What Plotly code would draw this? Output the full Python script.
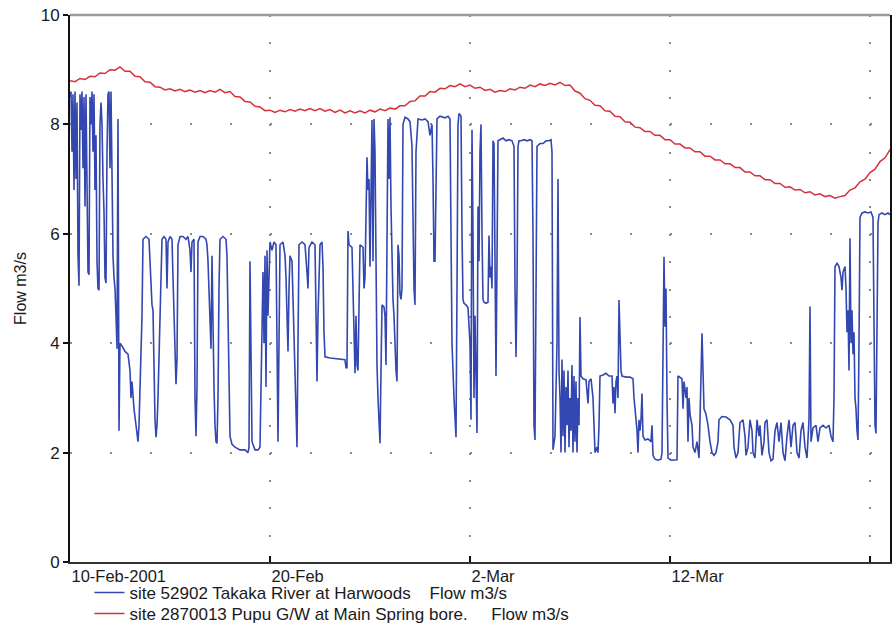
import pandas as pd
import plotly.graph_objects as go

START = "2001-02-10"

# Takaka River at Harwoods flow (m3/s); time in days after 10-Feb-2001 00:00
blue_days = [
    0.00, 0.05, 0.10, 0.15, 0.20, 0.25, 0.30, 0.35, 0.40, 0.45, 0.50, 0.55, 0.60, 0.65, 0.70, 0.75,
    0.80, 0.85, 0.90, 0.95, 1.00, 1.05, 1.10, 1.15, 1.20, 1.25, 1.30, 1.35, 1.40, 1.45, 1.50, 1.55,
    1.60, 1.65, 1.70, 1.75, 1.80, 1.85, 1.90, 1.95, 2.00, 2.05, 2.10, 2.15, 2.20, 2.25, 2.30, 2.35,
    2.40, 2.45, 2.50, 2.60, 2.75, 2.90, 3.00, 3.05, 3.10, 3.20, 3.30, 3.35, 3.40, 3.45, 3.50, 3.55,
    3.60, 3.65, 3.80, 3.95, 4.00, 4.05, 4.10, 4.15, 4.20, 4.25, 4.30, 4.35, 4.40, 4.45, 4.50, 4.55,
    4.60, 4.70, 4.80, 4.85, 4.90, 5.00, 5.10, 5.15, 5.20, 5.25, 5.30, 5.35, 5.40, 5.50, 5.65, 5.80,
    5.90, 6.00, 6.05, 6.10, 6.20, 6.25, 6.30, 6.35, 6.40, 6.50, 6.65, 6.80, 6.85, 6.90, 6.95, 7.00,
    7.05, 7.10, 7.15, 7.20, 7.25, 7.30, 7.35, 7.40, 7.45, 7.50, 7.65, 7.80, 7.85, 7.90, 7.95, 8.00,
    8.10, 8.25, 8.50, 8.75, 8.90, 8.95, 9.00, 9.05, 9.10, 9.25, 9.40, 9.50, 9.55, 9.60, 9.65, 9.70,
    9.75, 9.80, 9.85, 9.90, 9.95, 10.00, 10.10, 10.20, 10.30, 10.35, 10.40, 10.45, 10.50, 10.65, 10.75, 10.80,
    10.85, 10.90, 10.95, 11.00, 11.10, 11.20, 11.30, 11.35, 11.40, 11.45, 11.60, 11.75, 11.85, 11.90, 11.95, 12.10,
    12.25, 12.30, 12.35, 12.40, 12.50, 12.60, 12.65, 12.70, 12.75, 13.00, 13.25, 13.50, 13.75, 13.80, 13.85, 13.90,
    13.95, 14.10, 14.15, 14.20, 14.25, 14.30, 14.35, 14.40, 14.45, 14.50, 14.65, 14.70, 14.75, 14.80, 14.85, 14.90,
    14.95, 15.00, 15.05, 15.10, 15.15, 15.20, 15.25, 15.30, 15.35, 15.40, 15.45, 15.50, 15.55, 15.60, 15.70, 15.75,
    15.80, 15.85, 15.90, 15.95, 16.00, 16.05, 16.10, 16.15, 16.20, 16.25, 16.30, 16.35, 16.40, 16.45, 16.50, 16.55,
    16.60, 16.65, 16.75, 16.90, 17.00, 17.10, 17.15, 17.20, 17.25, 17.30, 17.40, 17.60, 17.75, 17.90, 18.00, 18.10,
    18.15, 18.20, 18.25, 18.30, 18.35, 18.50, 18.75, 18.90, 19.00, 19.05, 19.10, 19.20, 19.25, 19.30, 19.35, 19.40,
    19.45, 19.55, 19.60, 19.65, 19.70, 19.80, 19.90, 19.95, 20.00, 20.05, 20.10, 20.15, 20.20, 20.25, 20.30, 20.35,
    20.40, 20.45, 20.50, 20.55, 20.60, 20.65, 20.70, 20.80, 20.90, 20.95, 21.00, 21.05, 21.10, 21.15, 21.20, 21.25,
    21.30, 21.35, 21.40, 21.50, 21.65, 21.80, 21.95, 22.10, 22.20, 22.25, 22.30, 22.35, 22.40, 22.45, 22.55, 22.70,
    22.85, 23.00, 23.10, 23.15, 23.20, 23.25, 23.30, 23.35, 23.50, 23.65, 23.80, 23.95, 24.05, 24.10, 24.15, 24.25,
    24.35, 24.40, 24.45, 24.50, 24.55, 24.60, 24.65, 24.70, 24.75, 24.80, 24.85, 24.90, 24.95, 25.00, 25.05, 25.10,
    25.15, 25.20, 25.25, 25.30, 25.35, 25.40, 25.45, 25.50, 25.55, 25.65, 25.80, 25.90, 25.95, 26.05, 26.15, 26.20,
    26.25, 26.35, 26.40, 26.45, 26.50, 26.65, 26.80, 26.95, 27.10, 27.15, 27.20, 27.25, 27.30, 27.35, 27.40, 27.45,
    27.50, 27.55, 27.60, 27.80, 28.00, 28.15, 28.20, 28.25, 28.30, 28.35, 28.40, 28.45, 28.50, 28.55, 28.60, 28.65,
    28.75, 28.90, 29.05, 29.10, 29.15, 29.25, 29.40, 29.55, 29.60, 29.65, 29.70, 29.75, 29.80, 29.85, 29.90, 30.05,
    30.20, 30.35, 30.40, 30.50, 30.60, 30.65, 30.70, 30.80, 30.85, 30.90, 30.95, 31.00, 31.10, 31.15, 31.25, 31.35,
    31.45, 31.50, 31.55, 31.60, 31.65, 31.70, 31.80, 31.90, 32.00, 32.10, 32.20, 32.30, 32.40, 32.45, 32.60, 32.80,
    33.00, 33.15, 33.20, 33.30, 33.40, 33.50, 33.65, 33.75, 33.80, 33.90, 34.00, 34.10, 34.15, 34.25, 34.35, 34.45,
    34.50, 34.60, 34.70, 34.75, 34.85, 34.95, 35.05, 35.15, 35.25, 35.35, 35.45, 35.55, 35.65, 35.75, 35.85, 35.95,
    36.05, 36.15, 36.25, 36.35, 36.45, 36.55, 36.65, 36.75, 36.85, 36.90, 36.95, 37.00, 37.05, 37.15, 37.30, 37.40,
    37.50, 37.65, 37.80, 37.95, 38.05, 38.15, 38.20, 38.25, 38.35, 38.45, 38.55, 38.60, 38.65, 38.75, 38.80, 38.85,
    38.90, 38.95, 39.00, 39.05, 39.10, 39.15, 39.20, 39.25, 39.30, 39.35, 39.40, 39.45, 39.50, 39.60, 39.75, 39.90,
    40.05, 40.15, 40.20, 40.25, 40.30, 40.35, 40.40, 40.45, 40.60, 40.75, 40.90, 41.00,
]
blue_flow = [
    8.5, 8.6, 7.5, 8.55, 6.8, 8.6, 7.0, 8.4, 5.6, 5.05, 8.55, 7.9, 8.6, 7.2, 8.5, 6.5,
    8.55, 7.0, 5.3, 5.25, 8.5, 8.0, 8.6, 7.5, 8.55, 6.8, 7.8, 5.5, 5.0, 4.97, 8.0, 8.4,
    8.0, 7.0, 6.4, 5.2, 5.1, 7.5, 8.55, 8.6, 7.2, 8.6, 6.5, 5.6, 5.2, 5.0, 4.5, 3.9,
    8.1, 2.4, 4.0, 3.95, 3.85, 3.8, 3.5, 3.0, 3.3, 2.8, 2.5, 2.3, 2.2, 2.5, 3.2, 3.9,
    4.5, 5.9, 5.95, 5.9, 5.5, 5.0, 4.7, 4.6, 3.5, 2.6, 2.28, 2.5, 3.0, 3.8, 4.4, 5.0,
    5.9, 5.95, 5.9, 5.0, 5.85, 5.95, 5.9, 5.2, 4.5, 3.6, 3.25, 3.7, 5.8, 5.95, 5.95, 5.9,
    5.95, 5.7, 5.3, 5.85, 5.9, 3.0, 2.3, 3.2, 5.85, 5.95, 5.95, 5.9, 5.8, 5.5, 5.0, 4.4,
    3.9, 5.6, 4.0, 3.2, 2.5, 2.2, 2.17, 3.0, 5.0, 5.9, 5.95, 5.9, 5.6, 4.5, 3.0, 2.3,
    2.15, 2.1, 2.05, 2.05, 2.0, 2.1, 5.5, 3.5, 2.2, 2.05, 2.05, 2.1, 3.0, 4.5, 5.3, 4.0,
    5.6, 3.2, 5.7, 4.5, 5.5, 5.85, 5.7, 5.85, 5.8, 3.5, 2.2, 4.0, 5.8, 5.85, 5.6, 5.2,
    4.5, 3.85, 5.0, 5.6, 5.5, 4.0, 2.5, 2.1, 4.0, 5.8, 5.85, 5.8, 5.3, 5.0, 5.75, 5.85,
    5.8, 4.5, 3.3, 4.5, 5.8, 5.85, 5.4, 4.2, 3.75, 3.73, 3.72, 3.72, 3.7, 3.55, 3.55, 6.05,
    5.8, 5.75, 5.0, 4.0, 3.45, 4.5, 3.6, 3.5, 5.0, 5.8, 5.75, 5.0, 5.2, 6.0, 7.4, 6.8,
    7.0, 5.4, 6.5, 8.08, 5.5, 8.1, 7.5, 5.0, 3.6, 3.0, 2.5, 2.17, 3.5, 4.7, 4.66, 4.5,
    3.6, 6.0, 8.1, 7.0, 8.13, 6.5, 5.5, 4.8, 4.5, 3.8, 3.5, 3.3, 5.8, 5.6, 4.9, 4.8,
    5.0, 8.0, 8.13, 8.1, 8.05, 7.6, 6.0, 5.0, 4.7, 7.5, 8.1, 8.08, 8.1, 8.05, 7.8, 8.0,
    7.0, 5.5, 5.5, 7.0, 8.1, 8.15, 8.12, 8.15, 8.1, 6.0, 4.0, 3.0, 2.5, 2.28, 5.0, 8.0,
    8.2, 8.15, 6.0, 4.8, 4.73, 4.7, 4.65, 4.4, 4.0, 2.6, 7.9, 6.0, 3.0, 4.5, 3.5, 2.36,
    6.5, 5.5, 7.5, 8.0, 6.0, 4.8, 4.75, 4.73, 4.75, 5.97, 5.2, 5.4, 5.0, 7.7, 7.65, 5.0,
    3.4, 5.5, 7.7, 7.72, 7.75, 7.7, 7.72, 7.7, 7.6, 5.0, 3.75, 5.0, 7.6, 7.7, 7.7, 7.72,
    7.7, 7.72, 7.7, 6.0, 2.5, 2.23, 5.0, 7.6, 7.65, 7.65, 7.7, 7.7, 7.72, 7.5, 2.05, 2.3,
    4.0, 7.0, 3.5, 3.0, 2.0, 3.7, 2.3, 3.5, 2.0, 3.2, 2.5, 3.5, 2.1, 3.0, 2.4, 3.6,
    2.0, 3.4, 2.2, 3.3, 2.0, 3.0, 2.5, 4.48, 3.4, 3.35, 3.33, 2.9, 3.3, 3.35, 3.0, 2.3,
    2.0, 2.1, 2.0, 2.5, 3.4, 3.42, 3.45, 3.4, 3.4, 2.9, 3.2, 2.72, 3.3, 3.4, 3.0, 4.79,
    3.8, 3.5, 3.4, 3.38, 3.38, 3.35, 3.0, 2.8, 2.7, 2.41, 2.0, 2.6, 2.4, 2.6, 3.08, 2.3,
    2.23, 2.25, 2.2, 2.5, 1.95, 1.88, 1.86, 1.88, 2.0, 4.5, 5.58, 4.3, 5.0, 3.0, 1.9, 1.86,
    1.86, 1.87, 3.4, 3.38, 3.35, 2.8, 3.3, 3.0, 3.2, 2.2, 3.0, 2.7, 2.5, 2.1, 2.0, 2.2,
    1.9, 2.6, 3.8, 4.18, 3.5, 2.8, 2.7, 2.5, 2.2, 2.0, 1.95, 2.0, 2.2, 2.6, 2.66, 2.65,
    2.6, 2.5, 2.1, 1.9, 2.0, 2.55, 2.6, 2.3, 1.95, 2.1, 2.6, 2.4, 2.0, 1.9, 2.6, 2.3,
    2.5, 1.95, 2.2, 2.55, 2.6, 2.0, 1.85, 1.88, 2.4, 2.55, 2.2, 2.55, 2.0, 1.85, 2.3, 2.6,
    2.1, 2.5, 2.55, 2.0, 1.9, 2.4, 2.55, 2.1, 1.9, 2.2, 2.6, 4.67, 2.2, 2.45, 2.5, 2.2,
    2.45, 2.5, 2.45, 2.5, 2.3, 2.2, 3.0, 5.4, 5.46, 5.4, 5.2, 4.97, 5.3, 5.4, 5.0, 4.2,
    4.6, 3.5, 5.92, 4.0, 4.6, 3.8, 4.2, 3.0, 2.8, 2.4, 2.23, 4.0, 6.3, 6.38, 6.4, 6.38,
    6.4, 6.3, 4.0, 2.5, 2.35, 4.5, 6.2, 6.35, 6.38, 6.35, 6.38, 6.35,
]

# Pupu G/W at Main Spring bore flow (m3/s); one reading every quarter day
red_step_days = 0.25
red_flow = [
    8.80, 8.78, 8.84, 8.82, 8.88, 8.87, 8.94, 8.93, 9.00, 8.99, 9.05, 8.97,
    8.97, 8.88, 8.87, 8.78, 8.77, 8.69, 8.68, 8.63, 8.65, 8.61, 8.64, 8.60,
    8.63, 8.59, 8.62, 8.58, 8.62, 8.59, 8.64, 8.58, 8.60, 8.51, 8.50, 8.42,
    8.41, 8.33, 8.32, 8.25, 8.26, 8.22, 8.26, 8.23, 8.27, 8.24, 8.28, 8.25,
    8.29, 8.25, 8.29, 8.24, 8.27, 8.22, 8.26, 8.21, 8.25, 8.21, 8.25, 8.21,
    8.26, 8.23, 8.28, 8.25, 8.30, 8.28, 8.34, 8.34, 8.42, 8.43, 8.52, 8.52,
    8.60, 8.59, 8.66, 8.65, 8.71, 8.69, 8.74, 8.69, 8.72, 8.66, 8.68, 8.62,
    8.64, 8.59, 8.62, 8.60, 8.65, 8.63, 8.68, 8.66, 8.72, 8.69, 8.74, 8.71,
    8.75, 8.72, 8.77, 8.71, 8.72, 8.61, 8.57, 8.47, 8.44, 8.35, 8.34, 8.25,
    8.24, 8.15, 8.14, 8.05, 8.04, 7.95, 7.94, 7.87, 7.87, 7.80, 7.80, 7.72,
    7.72, 7.64, 7.64, 7.57, 7.57, 7.50, 7.50, 7.42, 7.42, 7.35, 7.35, 7.28,
    7.28, 7.21, 7.21, 7.13, 7.13, 7.06, 7.06, 6.99, 6.99, 6.92, 6.92, 6.85,
    6.86, 6.80, 6.81, 6.75, 6.77, 6.71, 6.73, 6.68, 6.70, 6.65, 6.68, 6.70,
    6.80, 6.84, 6.95, 7.00, 7.12, 7.18, 7.32, 7.39, 7.54,
]

tick_dates = ["2001-02-10", "2001-02-20", "2001-03-02", "2001-03-12", "2001-03-22"]
tick_labels = ["10-Feb-2001", "20-Feb", "2-Mar", "12-Mar", ""]
y_ticks = [0, 2, 4, 6, 8, 10]

blue_name = "site 52902 Takaka River at Harwoods\u00a0\u00a0\u00a0\u00a0Flow m3/s"
red_name = "site 2870013 Pupu G/W at Main Spring bore.\u00a0\u00a0\u00a0\u00a0\u00a0Flow m3/s"

t0 = pd.Timestamp(START)
blue_t = t0 + pd.to_timedelta(blue_days, unit="D")
red_t = t0 + pd.to_timedelta([i * red_step_days for i in range(len(red_flow))], unit="D")

FONT = "Liberation Sans, Arial, sans-serif"

fig = go.Figure()
fig.add_trace(go.Scatter(x=blue_t, y=blue_flow, mode="lines", name=blue_name,
                         line=dict(color="#3347b0", width=1.6), legend="legend"))
fig.add_trace(go.Scatter(x=red_t, y=red_flow, mode="lines", name=red_name,
                         line=dict(color="#d6303a", width=1.5), legend="legend2"))

legend_common = dict(xanchor="left", yanchor="top", orientation="v",
                     font=dict(size=17, family=FONT, color="#1a1a1a"),
                     bgcolor="rgba(0,0,0,0)", itemwidth=30)

fig.update_layout(
    width=892, height=626,
    margin=dict(l=70, r=2, t=15, b=64, autoexpand=False),
    paper_bgcolor="white", plot_bgcolor="white",
    font=dict(family=FONT, size=16, color="#1a1a1a"),
    showlegend=True,
    legend=dict(x=0.0237, y=-0.0238, **legend_common),
    legend2=dict(x=0.0237, y=-0.0622, **legend_common),
    shapes=[dict(type="line", xref="paper", yref="paper", x0=0, x1=1, y0=1, y1=1,
                 line=dict(color="#9a9a9a", width=2.5))],
)

fig.update_xaxes(
    type="date",
    range=["2001-02-10", "2001-03-23"],
    tickvals=tick_dates, ticktext=tick_labels,
    ticks="inside", ticklen=6, tickwidth=1.5, tickcolor="#111",
    ticklabelposition="outside right", ticklabelstandoff=-2,
    tickfont=dict(size=16.5, family=FONT, color="#1a1a1a"),
    showline=True, linecolor="#333", linewidth=1.5,
    showgrid=True, gridcolor="#8a8a8a", gridwidth=2, griddash="2px,25.35px",
    zeroline=False,
)
fig.update_yaxes(
    range=[0, 10],
    tickvals=y_ticks,
    ticks="outside", ticklen=5, tickwidth=1.5, tickcolor="#111",
    tickfont=dict(size=17, family=FONT, color="#1a1a1a"),
    title=dict(text="Flow m3/s", font=dict(size=16, family=FONT, color="#1a1a1a"), standoff=10),
    showline=True, linecolor="#111", linewidth=2, mirror=True,
    showgrid=True, gridcolor="#8a8a8a", gridwidth=2, griddash="2px,38px",
    zeroline=False,
)

# remove the default page margin so the 892x626 figure fills the window exactly
fig.write_html("out.html", config={"displayModeBar": False},
               post_script="document.body.style.margin='0px';document.body.style.overflow='hidden';")
